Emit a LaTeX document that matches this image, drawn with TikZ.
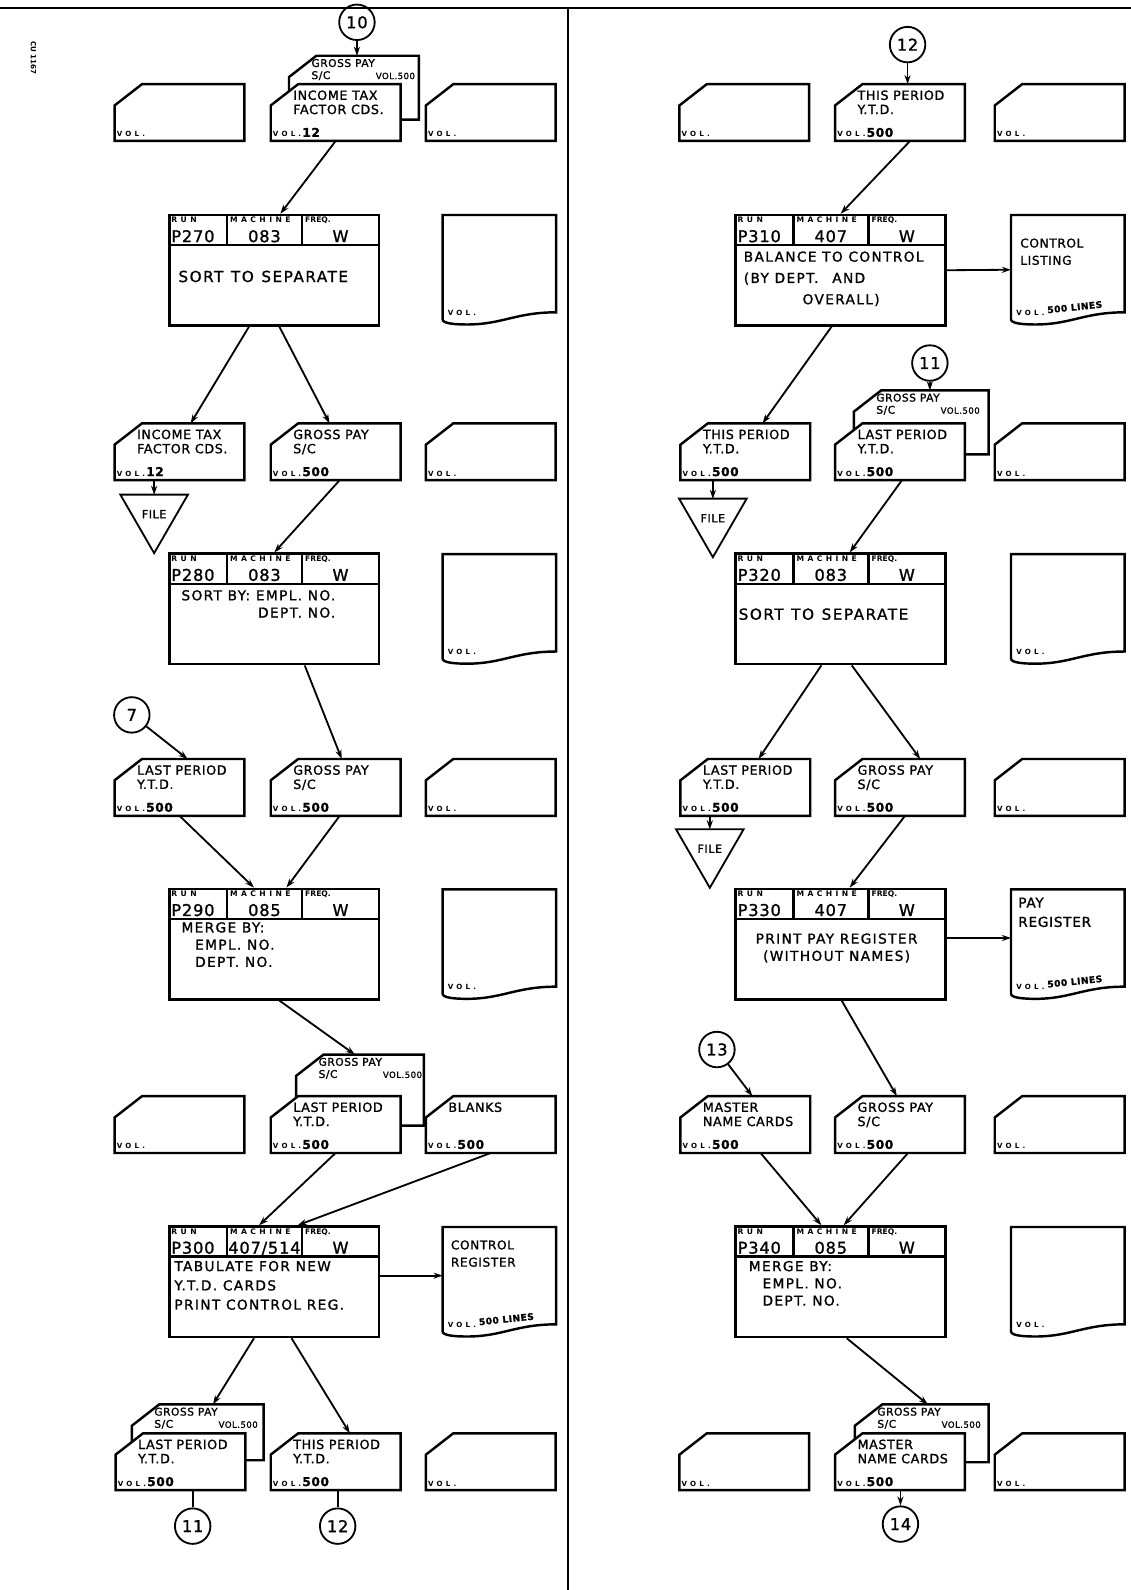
\documentclass[tikz,border=0pt]{standalone}
\usepackage{fontspec}
\setmainfont{DejaVu Sans}
\newfontfamily\handfont[LetterSpace=5,FakeBold=1.2]{DejaVu Sans}
\newfontfamily\runfont[LetterSpace=10,FakeBold=1.2]{DejaVu Sans}
\newfontfamily\spacedfont[LetterSpace=45]{DejaVu Sans}
\usetikzlibrary{arrows.meta,shapes.geometric}

\tikzset{
  frame/.style={line width=2.4pt},
  flow/.style={line width=1.8pt, -{Stealth[length=9pt,width=6pt]}},
  plain/.style={line width=1.8pt},
  cardbox/.style={minimum width=128pt, minimum height=56pt, inner sep=0pt, outer sep=0pt},
  cardline/.style={line width=2.4pt, fill=white},
  cardtext/.style={font=\handfont\fontsize{12.5}{14}\selectfont, align=left, inner sep=0pt},
  backtext/.style={font=\handfont\fontsize{10.5}{12}\selectfont, align=left, inner sep=0pt},
  voltext/.style={font=\spacedfont\fontsize{7}{8}\selectfont\bfseries, inner sep=0pt},
  runbox/.style={draw, line width=2.4pt, minimum width=207pt, minimum height=109pt, inner sep=0pt},
  hdr/.style={font=\spacedfont\fontsize{7.5}{8}\selectfont\bfseries, inner sep=0pt},
  runval/.style={font=\handfont\fontsize{16}{17}\selectfont, inner sep=0pt},
  runtext/.style={font=\runfont\fontsize{13.5}{17}\selectfont, align=left, inner sep=0pt},
  docbox/.style={minimum width=112pt, minimum height=108pt, inner sep=0pt, outer sep=0pt},
  doctext/.style={font=\handfont\fontsize{12}{17}\selectfont, align=left, inner sep=0pt},
  conn/.style={draw, circle, line width=1.8pt, minimum size=35pt, inner sep=0pt, font=\handfont\fontsize{16}{17}\selectfont},
  filetri/.style={draw, regular polygon, regular polygon sides=3, shape border rotate=180,
    minimum size=77pt, inner sep=0pt, line width=1.8pt, font=\handfont\fontsize{11}{12}\selectfont}
}

% outline of a card with the corner cut off
\newcommand{\cardoutline}[1]{%
  \draw[cardline] (#1.south west) -- ([yshift=-21pt]#1.north west) -- ([xshift=27pt]#1.north west)
    -- (#1.north east) -- (#1.south east) -- cycle;}
% card: [options] name, centre, text, volume
\newcommand{\datacard}[5][]{%
  \node[cardbox,#1] (#2) at (#3) {};
  \cardoutline{#2}
  \node[cardtext, anchor=north west] at ([shift={(22pt,-6pt)}]#2.north west) {#4};
  \node[voltext, anchor=base west] at ([shift={(2pt,4pt)}]#2.south west) {VOL.\,{\handfont\fontsize{12}{12}\selectfont\bfseries #5}};}
% gross pay card lying behind another one
\newcommand{\grosscard}[3][]{%
  \node[cardbox,#1] (#2) at (#3) {};
  \cardoutline{#2}
  \node[backtext, anchor=north west] at ([shift={(22pt,-3pt)}]#2.north west)
    {GROSS PAY\\\makebox[102pt][l]{S/C\hfill{\fontsize{8.5}{9}\selectfont VOL.500}}};}
% run box: name, centre, run, machine, freq
\newcommand{\runblock}[5]{%
  \node[runbox] (#1) at (#2) {};
  \draw[frame] ([yshift=-31pt]#1.north west) -- ([yshift=-31pt]#1.north east);
  \draw[frame] ([xshift=58pt]#1.north west) -- ++(0,-31pt);
  \draw[frame] ([xshift=132pt]#1.north west) -- ++(0,-31pt);
  \node[hdr, anchor=north west] at ([shift={(3pt,-3pt)}]#1.north west) {RUN};
  \node[hdr, anchor=north west] at ([shift={(61pt,-3pt)}]#1.north west) {MACHINE};
  \node[hdr, anchor=north west, font=\fontsize{7.5}{8}\selectfont\bfseries] at ([shift={(135pt,-3pt)}]#1.north west) {FREQ.};
  \node[runval, anchor=base west] at ([shift={(3pt,-28pt)}]#1.north west) {#3};
  \node[runval, anchor=base] at ([shift={(95pt,-28pt)}]#1.north west) {#4};
  \node[runval, anchor=base] at ([shift={(170pt,-28pt)}]#1.north west) {#5};}
% printed report: name, centre, lines
\newcommand{\docsheet}[3]{%
  \node[docbox] (#1) at (#2) {};
  \draw[frame] ([yshift=5pt]#1.south west) -- (#1.north west) -- (#1.north east) -- ([yshift=12pt]#1.south east)
    .. controls +(-40pt,0pt) and +(35pt,0pt) .. ([xshift=24pt]#1.south west)
    .. controls +(-12pt,0pt) and +(0pt,-4pt) .. ([yshift=5pt]#1.south west) -- cycle;
  \node[voltext, anchor=base west] at ([shift={(5pt,9pt)}]#1.south west) {VOL.};
  \node[voltext, anchor=base west, rotate=6, font=\handfont\fontsize{9}{9}\selectfont\bfseries]
    at ([shift={(36pt,11pt)}]#1.south west) {#3};}

\begin{document}
\begin{tikzpicture}[x=1pt,y=-1pt]
  \useasboundingbox (0,0) rectangle (1115,1568);
  \draw[frame] (0,8) -- (1115,8);
  \draw[frame] (560,8) -- (560,1568);
  \node[font=\fontsize{7}{8}\selectfont\bfseries, rotate=-90] (cu) at (33,57) {CU 1167};

  % left half
  \node[conn] (c10) at (352,22) {10};
  \datacard{v1a}{177,111}{}{}
  \grosscard[minimum height=63pt]{gp1}{349,86.5}
  \datacard{it1}{331,111}{INCOME TAX\\FACTOR CDS.}{12}
  \datacard{v1c}{484,111}{}{}
  \runblock{p270}{270.5,266.5}{P270}{083}{W}
  \node[runtext, anchor=north west, font=\runfont\fontsize{15}{17}\selectfont] at ([shift={(10pt,-56pt)}]p270.north west) {SORT\enspace TO\enspace SEPARATE};
  \docsheet{d270}{492.5,266}{}

  \datacard{it2}{177,445.5}{INCOME TAX\\FACTOR CDS.}{12}
  \node[filetri] (f1) at (152,507) {FILE};
  \datacard{gp2}{331,445.5}{GROSS PAY\\S/C}{500}
  \datacard{v2c}{484,445.5}{}{}
  \runblock{p280}{270.5,600.5}{P280}{083}{W}
  \node[runtext, anchor=north west, align=right] at ([shift={(13pt,-37pt)}]p280.north west) {SORT BY: EMPL. NO.\\DEPT. NO.};
  \docsheet{d280}{492.5,600.5}{}

  \node[conn] (c7) at (130,705) {7};
  \datacard{lp3}{177,776.5}{LAST PERIOD\\Y.T.D.}{500}
  \datacard{gp3}{331,776.5}{GROSS PAY\\S/C}{500}
  \datacard{v3c}{484,776.5}{}{}
  \runblock{p290}{270.5,931}{P290}{085}{W}
  \node[runtext, anchor=north west] at ([shift={(13pt,-34pt)}]p290.north west) {MERGE BY:\\\quad EMPL. NO.\\\quad DEPT. NO.};
  \docsheet{d290}{492.5,931}{}

  \datacard{v4a}{177,1109}{}{}
  \grosscard[minimum width=126pt, minimum height=70pt]{gp4}{355,1075}
  \datacard{lp4}{331,1109}{LAST PERIOD\\Y.T.D.}{500}
  \datacard{bl4}{484,1109}{BLANKS}{500}
  \runblock{p300}{270.5,1264}{P300}{407/514}{W}
  \node[runtext, anchor=north west, font=\runfont\fontsize{13.5}{19}\selectfont] at ([shift={(6pt,-35pt)}]p300.north west) {TABULATE FOR NEW\\Y.T.D. CARDS\\PRINT CONTROL REG.};
  \docsheet{cr}{492.5,1264}{500 LINES}
  \node[doctext, anchor=north west] at ([shift={(8pt,-13pt)}]cr.north west) {CONTROL\\REGISTER};

  \grosscard[minimum width=130pt, minimum height=55pt]{gp5}{195,1412.5}
  \datacard{lp5}{178,1441.5}{LAST PERIOD\\Y.T.D.}{500}
  \datacard{tp5}{331,1441.5}{THIS PERIOD\\Y.T.D.}{500}
  \datacard{v5c}{484,1441.5}{}{}
  \node[conn] (c11b) at (190,1505) {11};
  \node[conn] (c12b) at (333,1505) {12};

  \path[flow]
    (c10) edge (c10 |- gp1.north)
    (it1.south) edge ([xshift=6pt]p270.north)
    ([xshift=-25pt]p270.south) edge ([xshift=11pt]it2.north)
    ([xshift=5pt]p270.south) edge ([xshift=-6pt]gp2.north)
    (f1 |- it2.south) edge ([yshift=19pt]f1.center)
    ([xshift=4pt]gp2.south) edge (p280.north)
    ([xshift=30pt]p280.south) edge ([xshift=6pt]gp3.north)
    (c7) edge ([xshift=8pt]lp3.north)
    (lp3.south) edge ([xshift=-20pt]p290.north)
    ([xshift=4pt]gp3.south) edge ([xshift=12pt]p290.north)
    ([xshift=5pt]p290.south) edge ([xshift=-5pt]gp4.north)
    (lp4.south) edge ([xshift=-15pt]p300.north)
    (bl4.south) edge ([xshift=23pt]p300.north)
    ([yshift=6pt]p300.east) edge ([yshift=6pt]cr.west)
    ([xshift=-20pt]p300.south) edge ([xshift=15pt]gp5.north)
    ([xshift=17pt]p300.south) edge ([xshift=14pt]tp5.north);
  \path[plain]
    (c11b |- lp5.south) edge (c11b)
    (c12b |- tp5.south) edge (c12b);

  % right half
  \node[conn] (c12) at (895,44) {12};
  \datacard{v6a}{734,111}{}{}
  \datacard{tp1}{887.5,111}{THIS PERIOD\\Y.T.D.}{500}
  \datacard{v6c}{1045,111}{}{}
  \runblock{p310}{829,266.5}{P310}{407}{W}
  \node[runtext, anchor=north west, font=\runfont\fontsize{13.5}{21}\selectfont] at ([shift={(9pt,-37pt)}]p310.north west) {BALANCE TO CONTROL\\(BY DEPT.\quad AND\\\hspace{58pt}OVERALL)};
  \docsheet{cl}{1053,266}{500 LINES}
  \node[doctext, anchor=north west] at ([shift={(9pt,-23pt)}]cl.north west) {CONTROL\\LISTING};

  \node[conn] (c11) at (917,358) {11};
  \datacard{tp2}{735,445.5}{THIS PERIOD\\Y.T.D.}{500}
  \node[filetri] (f2) at (703,511) {FILE};
  \grosscard[minimum width=133pt, minimum height=63pt]{gpr2}{908.5,416.5}
  \datacard{lp2r}{887.5,445.5}{LAST PERIOD\\Y.T.D.}{500}
  \datacard{v7c}{1045,445.5}{}{}
  \runblock{p320}{829,600.5}{P320}{083}{W}
  \node[runtext, anchor=north west, font=\runfont\fontsize{15}{17}\selectfont] at ([shift={(4pt,-55pt)}]p320.north west) {SORT\enspace TO\enspace SEPARATE};
  \docsheet{d320}{1053,600.5}{}

  \datacard{lp3r}{735,776.5}{LAST PERIOD\\Y.T.D.}{500}
  \node[filetri] (f3) at (700,837) {FILE};
  \datacard{gp3r}{887.5,776.5}{GROSS PAY\\S/C}{500}
  \datacard{v8c}{1045,776.5}{}{}
  \runblock{p330}{829,931}{P330}{407}{W}
  \node[runtext, anchor=north, align=center] at ([shift={(-4pt,-45pt)}]p330.north) {PRINT PAY REGISTER\\(WITHOUT NAMES)};
  \docsheet{pr}{1053,931}{500 LINES}
  \node[doctext, anchor=north west, font=\handfont\fontsize{13.5}{19}\selectfont] at ([shift={(7pt,-8pt)}]pr.north west) {PAY\\REGISTER};

  \node[conn] (c13) at (707,1035) {13};
  \datacard{mn4}{735,1109}{MASTER\\NAME CARDS}{500}
  \datacard{gp4r}{887.5,1109}{GROSS PAY\\S/C}{500}
  \datacard{v9c}{1045,1109}{}{}
  \runblock{p340}{829,1264}{P340}{085}{W}
  \node[runtext, anchor=north west] at ([shift={(14pt,-35pt)}]p340.north west) {MERGE BY:\\\quad EMPL. NO.\\\quad DEPT. NO.};
  \docsheet{d340}{1053,1264}{}

  \datacard{v10a}{734,1441.5}{}{}
  \grosscard[minimum width=132pt, minimum height=57pt]{gpr5}{909,1413.5}
  \datacard{mn5}{887.5,1441.5}{MASTER\\NAME CARDS}{500}
  \datacard{v10c}{1045,1441.5}{}{}
  \node[conn] (c14) at (888,1503) {14};

  \path[flow]
    (c12) edge (c12 |- tp1.north)
    ([xshift=10pt]tp1.south) edge (p310.north)
    (p310.east) edge (cl.west)
    ([xshift=-9pt]p310.south) edge ([xshift=17pt]tp2.north)
    (c11) edge (c11 |- gpr2.north)
    (f2 |- tp2.south) edge ([yshift=19pt]f2.center)
    ([xshift=2pt]lp2r.south) edge ([xshift=9pt]p320.north)
    ([xshift=-19pt]p320.south) edge ([xshift=13pt]lp3r.north)
    ([xshift=11pt]p320.south) edge ([xshift=20pt]gp3r.north)
    (f3 |- lp3r.south) edge ([yshift=19pt]f3.center)
    ([xshift=5pt]gp3r.south) edge ([xshift=9pt]p330.north)
    ([yshift=6pt]p330.east) edge ([yshift=6pt]pr.west)
    ([xshift=1pt]p330.south) edge ([xshift=-3pt]gp4r.north)
    (c13) edge ([xshift=7pt]mn4.north)
    ([xshift=15pt]mn4.south) edge ([xshift=-19pt]p340.north)
    ([xshift=8pt]gp4r.south) edge ([xshift=3pt]p340.north)
    ([xshift=6pt]p340.south) edge ([xshift=6pt]gpr5.north)
    (c14 |- mn5.south) edge (c14);
\end{tikzpicture}
\end{document}
